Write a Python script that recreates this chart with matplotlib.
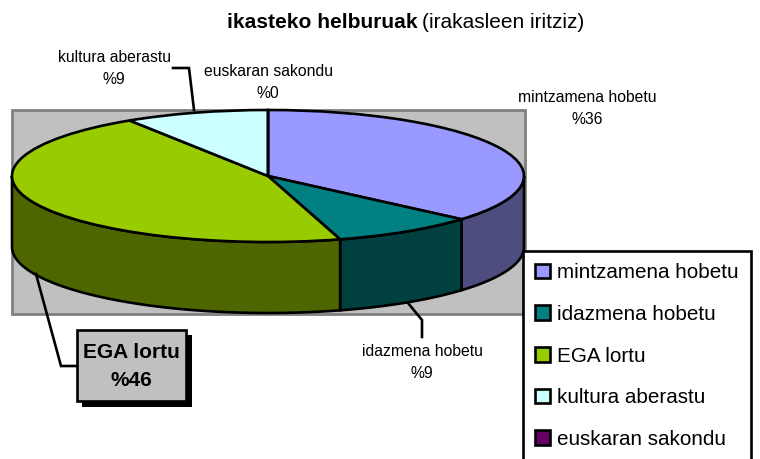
import numpy as np
import matplotlib
matplotlib.use('Agg')
import matplotlib.pyplot as plt
from matplotlib.patches import Rectangle, Polygon

plt.rcParams['font.family'] = ['Liberation Sans', 'DejaVu Sans']

categories = ['mintzamena hobetu', 'idazmena hobetu', 'EGA lortu', 'kultura aberastu', 'euskaran sakondu']
values = [36.4, 9.1, 45.5, 9.1, 0.0]
value_labels = ['%36', '%9', '%46', '%9', '%0']
top_colors = ['#9999ff', '#008080', '#99cc00', '#ccffff', '#660066']
side_colors = ['#4d4d80', '#004040', '#4d6600', '#668080', '#330033']

# pie geometry in pixels of the 760x459 picture
cx, cy, rx, ry, depth = 268, 176, 256, 66, 71
line_w = 1.9


def X(px):
    return (px - cx) / rx


def Y(py):
    return (cy - py) / ry


fig = plt.figure(figsize=(7.6, 4.59), dpi=100)
ax = fig.add_axes([0, 0, 1, 1])

# pie top, squashed to an ellipse by the axes limits
wedges, _ = ax.pie(values, colors=top_colors, startangle=90, counterclock=False, radius=1,
                   wedgeprops={'edgecolor': 'black', 'linewidth': line_w, 'zorder': 4})
ax.set_aspect('auto')
ax.set_xlim(X(0), X(760))
ax.set_ylim(Y(459), Y(0))
ax.axis('off')

# grey plot area behind the pie
ax.add_patch(Rectangle((X(12), Y(314)), 513 / rx, 204 / ry, facecolor='#c0c0c0',
                       edgecolor='#808080', linewidth=2, zorder=1))

# front wall of the pie, one piece per slice
edges = np.cumsum([0] + values) / sum(values) * 360
d = depth / ry
for i in range(len(values)):
    a = max(edges[i], 90)
    b = min(edges[i + 1], 270)
    if b <= a:
        continue
    t = np.radians(np.linspace(a, b, 80))
    xs = np.sin(t)
    ys = np.cos(t)
    pts = np.concatenate([np.column_stack([xs, ys]),
                          np.column_stack([xs[::-1], ys[::-1] - d])])
    ax.add_patch(Polygon(pts, closed=True, facecolor=side_colors[i], edgecolor='black',
                         linewidth=line_w, zorder=3))

# leader lines
lead = {'color': 'black', 'linewidth': line_w, 'zorder': 5, 'solid_joinstyle': 'miter'}
ax.plot([X(173), X(189), X(194)], [Y(68), Y(68), Y(110)], **lead)
ax.plot([X(36), X(61), X(76)], [Y(274), Y(366), Y(366)], **lead)
ax.plot([X(408), X(422), X(422)], [Y(303), Y(320), Y(337)], **lead)

# slice labels
label_pos = {0: (587, 98, 119), 1: (422, 351, 373), 3: (114, 57, 79), 4: (268, 72, 93)}
for i, (x, y1, y2) in label_pos.items():
    ax.text(X(x), Y(y1), categories[i], ha='center', va='center', fontsize=11.3, zorder=6)
    ax.text(X(x), Y(y2), value_labels[i], ha='center', va='center', fontsize=11.3, zorder=6)

# EGA callout with its shadow
ax.add_patch(Rectangle((X(82), Y(407)), 110 / rx, 72 / ry, facecolor='black', edgecolor='none', zorder=5))
ax.add_patch(Rectangle((X(77), Y(401)), 109 / rx, 71 / ry, facecolor='#c0c0c0', edgecolor='black',
                       linewidth=line_w, zorder=6))
ax.text(X(131), Y(352), categories[2], ha='center', va='center', fontsize=15, fontweight='bold', zorder=7)
ax.text(X(131), Y(380), value_labels[2], ha='center', va='center', fontsize=15, fontweight='bold', zorder=7)

# title in two weights
ax.text(X(418), Y(22), 'ikasteko helburuak', ha='right', va='center', fontsize=15.1, fontweight='bold')
ax.text(X(422), Y(22), '(irakasleen iritziz)', ha='left', va='center', fontsize=15)

leg = ax.legend(wedges, categories, loc='upper left', bbox_to_anchor=(523 / 760, 1 - 251 / 459),
                bbox_transform=fig.transFigure, borderaxespad=0, fontsize=14.9, fancybox=False,
                framealpha=1, edgecolor='black', handlelength=0.7, handleheight=0.7,
                handletextpad=0.35, labelspacing=1.09, borderpad=0.6)
leg.get_frame().set_linewidth(line_w)
leg.set_zorder(8)

fig.savefig('out.png', dpi=100)
